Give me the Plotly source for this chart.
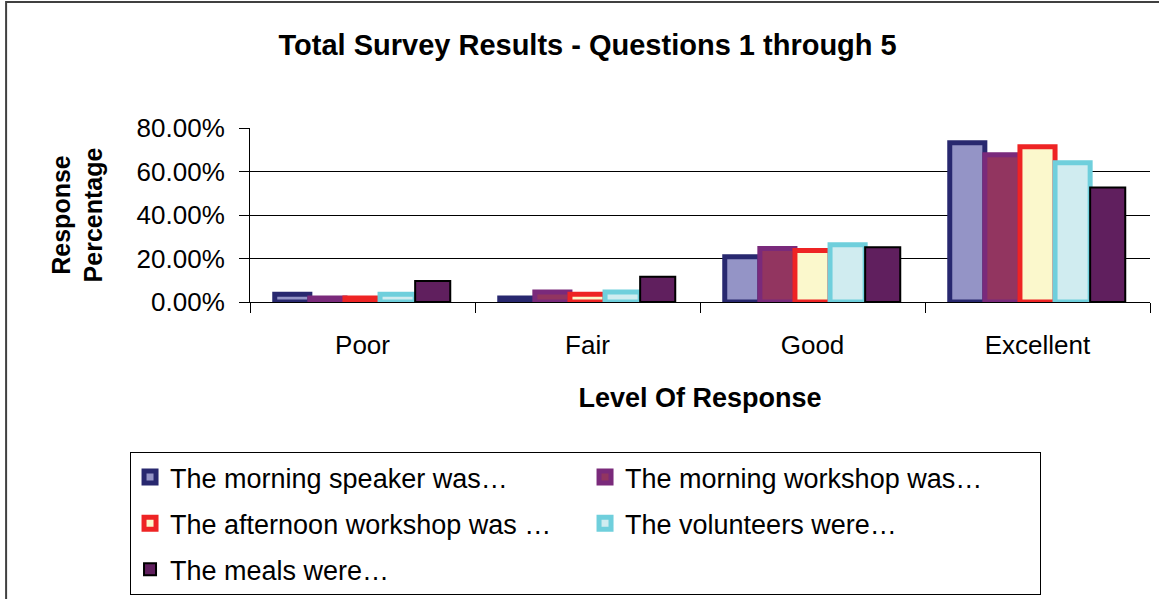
import plotly.graph_objects as go

# Survey data (fractions of responses)
levels = ['Poor', 'Fair', 'Good', 'Excellent']
series_names = [
    'The morning speaker was…',
    'The morning workshop was…',
    'The afternoon workshop was …',
    'The volunteers were…',
    'The meals were…',
]
morning_speaker = [0.036, 0.018, 0.208, 0.732]
morning_workshop = [0.018, 0.046, 0.246, 0.677]
afternoon_workshop = [0.018, 0.036, 0.237, 0.714]
volunteers = [0.036, 0.046, 0.263, 0.640]
meals = [0.096, 0.116, 0.252, 0.527]

values = [morning_speaker, morning_workshop, afternoon_workshop, volunteers, meals]

# (fill, outline, outline width)
STYLE = [
    ('#9494C6', '#28286F', 5),
    ('#923560', '#7A2A7B', 5),
    ('#FBF8CC', '#EE2424', 5),
    ('#D0ECF0', '#6FCFDC', 5),
    ('#601F5E', '#000000', 2),
]

FONT = 'Arial, Liberation Sans, sans-serif'

fig = go.Figure()
for i, (name, vals, (fill, line, lw)) in enumerate(zip(series_names, values, STYLE)):
    fig.add_trace(go.Bar(
        x=levels,
        y=vals,
        name=name,
        legendgroup=f'g{i}',
        marker=dict(color=fill, line=dict(color=line, width=lw)),
        hovertemplate='%{x}: %{y:.2%}<extra></extra>',
    ))

# outer chart-area border
fig.add_shape(type='rect', xref='paper', yref='paper',
              x0=-0.271, x1=1.05, y0=-1.9, y1=1.724,
              line=dict(color='#404040', width=2), fillcolor='rgba(0,0,0,0)')

fig.update_layout(
    width=1159,
    height=599,
    paper_bgcolor='white',
    plot_bgcolor='white',
    font=dict(family=FONT, color='black', size=26),
    margin=dict(l=250, r=9, t=128, b=297, autoexpand=False),
    barmode='group',
    bargap=0.22,
    bargroupgap=0,
    title=dict(
        text='<b>Total Survey Results - Questions 1 through 5</b>',
        font=dict(size=29, family=FONT),
        x=0.507, xanchor='center', y=0.925, yanchor='middle',
    ),
    xaxis=dict(
        title=dict(text='<b>Level Of Response</b>', font=dict(size=27), standoff=28),
        tickfont=dict(size=26),
        ticklabelstandoff=20,
        showline=True, linecolor='black', linewidth=1,
        ticks='outside', tickson='boundaries', ticklen=10, tickcolor='black',
        showgrid=False, automargin=False,
    ),
    yaxis=dict(
        title=dict(text='<b>Response<br>Percentage</b>', font=dict(size=25), standoff=26),
        tickfont=dict(size=26),
        ticklabelstandoff=9,
        range=[0, 0.8], dtick=0.2, tickformat='.2%',
        showline=True, linecolor='black', linewidth=1,
        ticks='outside', ticklen=10, tickcolor='black',
        showgrid=True, gridcolor='black', gridwidth=1,
        zeroline=False, automargin=False,
    ),
    legend=dict(
        orientation='h',
        x=-0.1333, xanchor='left',
        y=-0.862, yanchor='top',
        entrywidth=410, entrywidthmode='pixels',
        bordercolor='black', borderwidth=1,
        font=dict(size=27),
        traceorder='grouped',
        tracegroupgap=8,
    ),
)

# drop the default page margin so the figure sits at the window's corner
fig.write_html('out.html', config={'displayModeBar': False},
               post_script="document.body.style.margin='0';")
